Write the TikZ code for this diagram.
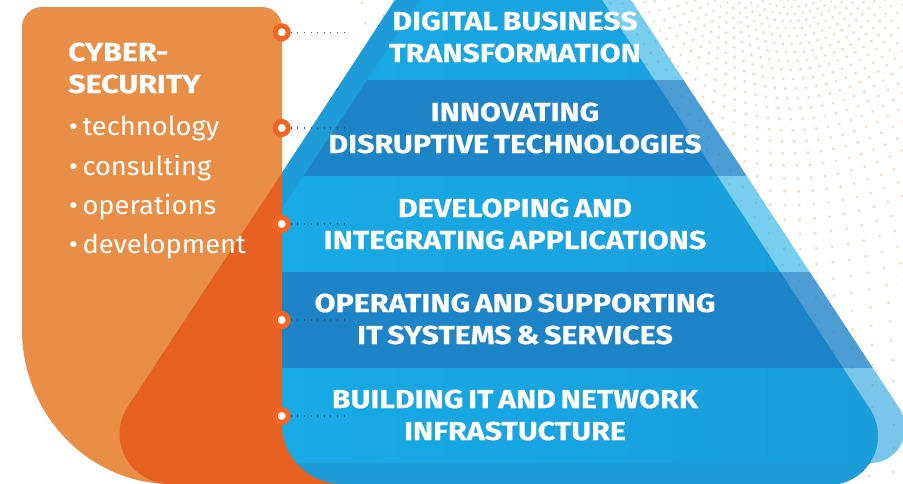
\documentclass[tikz,border=0pt]{standalone}
\usepackage{fontspec}
\setmainfont[FakeStretch=1.05]{Fira Sans}
\newfontfamily\headfont[FakeStretch=1.17,FakeBold=0.4,WordSpace=0.65]{Fira Sans Bold}
\definecolor{layLight}{HTML}{17AAE4}
\definecolor{layLightR}{HTML}{1A9DDB}
\definecolor{layDark}{HTML}{1E84C8}
\definecolor{layFoot}{HTML}{1E9CD8}
\definecolor{cardOrange}{HTML}{E98E47}
\definecolor{deepOrange}{HTML}{E66022}
\definecolor{ringOrange}{HTML}{F26522}
\definecolor{dotPeach}{HTML}{F9D8C2}
\definecolor{dotGrey}{HTML}{E5E2D0}
\tikzset{
  marker/.style={circle,draw=ringOrange,line width=5pt,fill=white,minimum size=13pt,inner sep=0pt},
  leader/.style={draw=black!70,line width=1.1pt,dash pattern=on 1.1pt off 5.5pt},
  layertext/.style={text=white,align=center,font=\headfont\fontsize{26}{32}\selectfont,inner sep=0pt},
  cardtitle/.style={text=white,align=left,font=\headfont\fontsize{26}{32}\selectfont,inner sep=0pt},
  cardlist/.style={text=white,align=left,font=\fontsize{26}{39.4}\selectfont,inner sep=0pt}
}
\begin{document}
\begin{tikzpicture}[x=1pt,y=-1pt]
\useasboundingbox (0,0) rectangle (903,483);
\clip (0,0) rectangle (903,483);
% dotted background
\foreach \i in {0,...,42}{
  \pgfmathsetmacro\rr{175*exp(0.036*\i)-121}
  \pgfmathsetmacro\st{(5+0.036*\rr)/\rr*57.3}
  \pgfmathtruncatemacro\nn{180/\st}
  \foreach \j in {0,...,\nn}{
    \pgfmathsetmacro\th{(\j+0.5*mod(\i,2))*\st}
    \pgfmathsetmacro\dx{790+\rr*cos(\th)}
    \pgfmathsetmacro\dy{-60+\rr*sin(\th)}
    \pgfmathtruncatemacro\keep{(\dx>355 && \dx<906 && \dy>-3 && \dy<486)?1:0}
    \ifnum\keep=1
      \pgfmathtruncatemacro\pc{min(100,max(0,\dy*2))}
      \fill[dotPeach!\pc!dotGrey] (\dx,\dy) circle[radius=1.5];
    \fi
  }
}
% translucent back band on the right
\begin{scope}
\clip (631,0) -- (899.7,408.8) .. controls (903.4,414.5) and (905.4,421.2) .. (905.4,428)
  .. controls (905.4,447.3) and (889.7,463) .. (870.4,463) -- (600,463) -- (600,0) -- cycle;
\fill[layLight,opacity=.58] (600,0) rectangle (910,80);
\fill[layDark,opacity=.8] (600,80) rectangle (910,176);
\fill[layLight,opacity=.58] (600,176) rectangle (910,272);
\fill[layDark,opacity=.8] (600,272) rectangle (910,368);
\fill[layLightR,opacity=.58] (600,368) rectangle (910,463);
\end{scope}
% card
\fill[cardOrange] (22,27) .. controls (22,16) and (31,7) .. (42,7) -- (262,7)
  .. controls (273,7) and (282,16) .. (282,27) -- (282,300) -- (300,484) -- (165,484)
  .. controls (85,480) and (22,412) .. (22,330) -- cycle;
% overlap of card and pyramid
\fill[deepOrange] (282,173) -- (127.5,407) .. controls (122.3,415) and (119.5,424.5) .. (119.5,434)
  .. controls (119.5,461) and (141.5,483) .. (168.5,484) -- (350,484) -- (350,173) -- cycle;
% pyramid
\begin{scope}
\clip (395,0) -- (282,173) -- (282,424) .. controls (282,457) and (309,484) .. (342,484)
  -- (829,485) .. controls (856,485) and (878,463) .. (878,436)
  .. controls (878,426.5) and (875,417) .. (870,409) -- (602,0) -- cycle;
\shade[left color=layLight,right color=layLightR] (282,0) rectangle (880,80);
\fill[layDark] (282,80) rectangle (880,176);
\shade[left color=layLight,right color=layLightR] (282,176) rectangle (880,272);
\fill[layDark] (282,272) rectangle (880,368);
\shade[left color=layLight,right color=layLightR] (282,368) rectangle (880,463);
\fill[layFoot] (282,463) rectangle (880,486);
\fill[layFoot] (395,0) -- (420,0) -- (282,208) -- (282,173) -- cycle;
\end{scope}
% texts
\node[cardtitle,anchor=west] (title) at (68,68) {CYBER-\\SECURITY};
\node[cardlist,anchor=north west] (list) at (69,116) {•\hspace{4.5pt}technology\\•\hspace{4.5pt}consulting\\•\hspace{4.5pt}operations\\•\hspace{4.5pt}development};
\node[layertext] (t1) at (515,37) {DIGITAL BUSINESS\\TRANSFORMATION};
\node[layertext] (t2) at (515,128) {INNOVATING\\DISRUPTIVE TECHNOLOGIES};
\node[layertext] (t3) at (515,224) {DEVELOPING AND\\INTEGRATING APPLICATIONS};
\node[layertext] (t4) at (515,319) {OPERATING AND SUPPORTING\\IT SYSTEMS \& SERVICES};
\node[layertext] (t5) at (515,415) {BUILDING IT AND NETWORK\\INFRASTUCTURE};
% markers and leaders
\foreach \k/\yy in {1/32.3,2/128,3/224,4/320,5/416}{
  \node[marker] (m\k) at (281.7,\yy) {};
  \coordinate (e\k) at (344,\yy);
  \draw[leader] (m\k) -- (e\k);
}
\end{tikzpicture}
\end{document}
